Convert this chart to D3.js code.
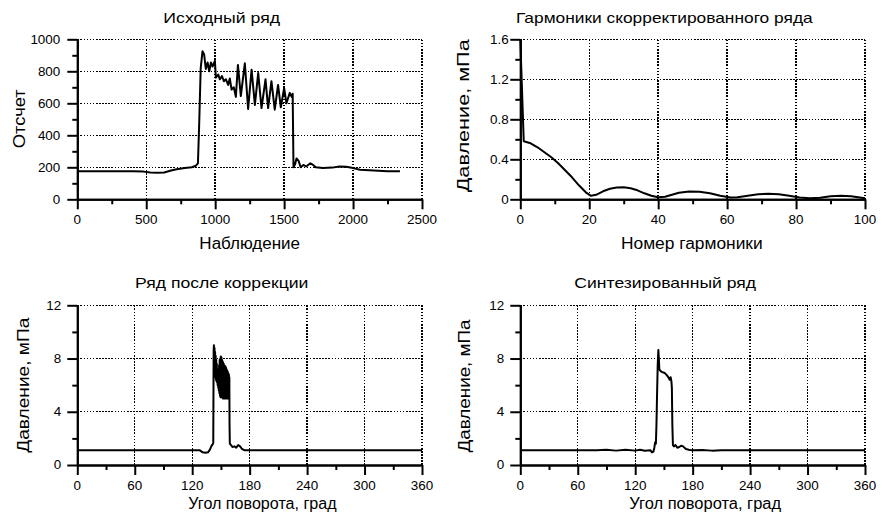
<!DOCTYPE html>
<html><head><meta charset="utf-8">
<script src="https://cdn.jsdelivr.net/npm/d3@7"></script>
<style>
body{margin:0;background:#fff}
svg{display:block}
text{font-family:"Liberation Sans",Arial,Helvetica,sans-serif;fill:#000}
</style>
</head><body>
<svg id="c" width="882" height="522"></svg>
<script>
// ---------- DATA ----------
const panelTitles = ["Исходный ряд", "Гармоники скорректированного ряда", "Ряд после коррекции", "Синтезированный ряд"];
const xTitles = ["Наблюдение", "Номер гармоники", "Угол поворота, град", "Угол поворота, град"];
const yTitles = ["Отсчет", "Давление, мПа", "Давление, мПа", "Давление, мПа"];

// Panel 1: raw series
const rawObs = [0,100,200,300,400,480,530,580,630,680,720,780,830,860,875,885,895,908,920,932,945,957,969,981,998,1005,1022,1034,1049,1063,1078,1094,1106,1119,1135,1150,1165,1186,1215,1239,1264,1288,1312,1336,1365,1384,1408,1432,1456,1476,1500,1517,1541,1555,1562,1568,1580,1590,1605,1620,1640,1660,1690,1710,1730,1780,1850,1900,1950,2000,2050,2150,2250,2340];
const rawCount = [175,175,176,176,175,173,168,166,168,180,188,195,200,210,225,500,820,925,905,815,855,800,855,830,865,760,780,750,770,738,750,715,755,686,700,640,840,645,850,565,810,590,790,570,750,570,738,560,715,575,695,600,665,640,660,200,220,255,240,200,215,205,225,215,200,195,198,205,203,195,185,180,176,175];

// Panel 2: harmonics
const harmNum = [0,1,3,5,7,9,11,13,15,17,19,20.5,22,24,26,28,30,32,34,36,38,40,42,44,46,49,52,55,58,61,63,66,69,72,75,78,81,84,87,90,93,96,98,100];
const harmAmp = [1.6,0.58,0.56,0.52,0.47,0.42,0.36,0.29,0.22,0.14,0.07,0.035,0.045,0.08,0.105,0.118,0.12,0.11,0.09,0.06,0.035,0.02,0.025,0.045,0.065,0.078,0.075,0.06,0.035,0.018,0.02,0.035,0.05,0.055,0.05,0.035,0.018,0.01,0.015,0.03,0.035,0.03,0.02,0.01];

// Panel 3: corrected series
const corrAngle = [0,128,131,134,136.5,138.5,140.3,141.8,142.0,142.4,142.7,143.0,143.3,143.6,143.9,144.2,144.5,144.8,145.1,145.4,145.7,146.0,146.3,146.6,146.9,147.2,147.5,147.8,148.1,148.4,148.7,149.0,149.3,149.6,149.9,150.2,150.5,150.8,151.1,151.4,151.7,152.0,152.3,152.6,152.9,153.2,153.5,153.8,154.1,154.4,154.7,155.0,155.3,155.6,155.9,156.2,156.5,156.8,157.1,157.4,157.7,158.0,158.3,158.6,158.8,159.0,159.3,160.5,162,164,166,168,170,172,175,180,360];
const corrPress = [1.1,1.1,0.95,0.92,0.95,1.15,1.45,1.6,1.7,8.6,9.0,7.4,8.8,6.9,8.5,6.6,8.2,6.4,7.9,6.3,7.6,6.2,7.2,6.0,6.9,5.8,7.0,5.6,7.5,5.4,7.9,5.2,8.0,5.1,8.15,5.1,8.1,5.1,7.9,5.1,7.8,5.0,7.7,5.1,7.6,5.0,7.5,5.1,7.45,5.0,7.4,5.1,7.3,5.0,7.2,5.1,7.1,5.0,7.0,5.1,6.9,5.0,6.8,5.1,6.6,3.0,1.6,1.5,1.35,1.4,1.3,1.5,1.4,1.2,1.1,1.1,1.1];

// Panel 4: synthesized series
const synAngle = [0,80,90,100,110,120,125,130,136,137.5,139,140,140.8,141.6,142.2,142.8,143.5,144.2,144.7,145.2,146,147.5,149.5,151,153,155,156,157,157.8,158.3,158.8,159.4,160.5,162,164,166,168,170,173,176,180,190,200,210,360];
const synPress = [1.1,1.1,1.14,1.08,1.14,1.08,1.15,1.07,1.1,0.95,1.0,1.3,1.7,1.6,3.0,5.2,7.5,8.65,8.0,7.2,7.1,7.0,6.95,6.9,6.75,6.55,6.4,6.6,6.3,5.8,3.0,1.5,1.4,1.5,1.3,1.35,1.45,1.4,1.2,1.15,1.1,1.13,1.08,1.1,1.1];

// ticks
const p1XTicks = [0,500,1000,1500,2000,2500];
const p1XMinor = [250,750,1250,1750,2250];
const p1YTicks = [0,200,400,600,800,1000];
const p1YMinor = [100,300,500,700,900];
const p2XTicks = [0,20,40,60,80,100];
const p2XMinor = [10,30,50,70,90];
const p2YTicks = [0,0.4,0.8,1.2,1.6];
const p2YLabels = ["0","0.4","0.8","1.2","1.6"];
const p2YMinor = [0.2,0.6,1.0,1.4];
const angTicks = [0,60,120,180,240,300,360];
const angMinor = [30,90,150,210,270,330];
const pressTicks = [0,4,8,12];
const pressMinor = [2,6,10];

// ---------- DRAW ----------
const svg = d3.select("#c");

function label(s, x, y, anchor, fs, sx, rot, len){
  const t = svg.append("text")
    .attr("transform", `translate(${x},${y}) rotate(${rot||0})` + (sx ? ` scale(${sx},1)` : ""))
    .attr("text-anchor", anchor).attr("font-size", fs).text(s);
  if (len){ t.attr("textLength", len).attr("lengthAdjust", "spacingAndGlyphs"); }
  return t;
}

function panel(c){
  const x = d3.scaleLinear().domain(c.xd).range([c.l, c.r]);
  const y = d3.scaleLinear().domain(c.yd).range([c.b, c.t]);
  const g = svg.append("g");
  const dot = sel => sel.attr("stroke","#000").attr("stroke-width",1.4).attr("stroke-dasharray","1.6,1.5").attr("shape-rendering","crispEdges");
  c.xt.filter(v => v !== c.xd[0]).forEach(v => {
    g.append("line").attr("x1",x(v)).attr("x2",x(v)).attr("y1",y(c.yd[0])).attr("y2",y(c.yd[1])).call(dot);
  });
  c.yt.filter(v => v !== c.yd[0]).forEach(v => {
    g.append("line").attr("y1",y(v)).attr("y2",y(v)).attr("x1",x(c.xd[0])).attr("x2",x(c.xd[1])).call(dot);
  });
  g.append("path").datum(d3.zip(c.xs, c.ys))
    .attr("d", d3.line().x(d => x(d[0])).y(d => y(d[1])))
    .attr("fill","none").attr("stroke","#000").attr("stroke-width",2).attr("stroke-linejoin","round");
  const styleAx = a => { a.selectAll("path,line").attr("stroke","#000").attr("stroke-width",2); };
  g.append("g").attr("transform",`translate(0,${c.b})`).call(d3.axisBottom(x).tickValues(c.xt).tickSize(10).tickSizeOuter(0).tickFormat("")).call(styleAx);
  g.append("g").attr("transform",`translate(0,${c.b})`).call(d3.axisBottom(x).tickValues(c.xm).tickSize(5).tickSizeOuter(0).tickFormat("")).call(styleAx);
  g.append("g").attr("transform",`translate(${c.l},0)`).call(d3.axisLeft(y).tickValues(c.yt).tickSize(10).tickSizeOuter(0).tickFormat("")).call(styleAx);
  g.append("g").attr("transform",`translate(${c.l},0)`).call(d3.axisLeft(y).tickValues(c.ym).tickSize(5).tickSizeOuter(0).tickFormat("")).call(styleAx);
  c.xt.forEach(v => label(String(v), x(v), c.b + 25, "middle", 12, 1.12));
  c.yt.forEach((v,i) => label(c.yl ? c.yl[i] : String(v), c.l - c.yGap, y(v) + 4.3, "end", 12, 1.12));
  label(c.title, c.tx, c.ty, "middle", 15, 0, 0, c.tw);
  label(c.xTitle, c.ax, c.ay, "middle", 16, 0, 0, c.aw);
  label(c.yTitle, c.yx, c.yy, "middle", 16, 0, -90, c.yw);
}

panel({xd:[0,2500], yd:[0,1000], l:77.3, r:422, t:39.3, b:199.3, xs:rawObs, ys:rawCount,
  xt:p1XTicks, xm:p1XMinor, yt:p1YTicks, ym:p1YMinor, yGap:17,
  title:panelTitles[0], tx:221.7, ty:23, tw:116.7,
  xTitle:xTitles[0], ax:249.7, ay:249, aw:100.7,
  yTitle:yTitles[0], yx:25, yy:118.8, yw:59});
panel({xd:[0,100], yd:[0,1.6], l:520.3, r:865, t:39.3, b:199.3, xs:harmNum, ys:harmAmp,
  xt:p2XTicks, xm:p2XMinor, yt:p2YTicks, yl:p2YLabels, ym:p2YMinor, yGap:11.5,
  title:panelTitles[1], tx:664.3, ty:23, tw:296.7,
  xTitle:xTitles[1], ax:691.8, ay:249, aw:141.7,
  yTitle:yTitles[1], yx:469, yy:115.8, yw:153});
panel({xd:[0,360], yd:[0,12], l:77.3, r:422, t:305.3, b:465, xs:corrAngle, ys:corrPress,
  xt:angTicks, xm:angMinor, yt:pressTicks, ym:pressMinor, yGap:16,
  title:panelTitles[2], tx:221.7, ty:288, tw:173.3,
  xTitle:xTitles[2], ax:262.5, ay:509, aw:148.3,
  yTitle:yTitles[2], yx:29, yy:385.2, yw:135});
panel({xd:[0,360], yd:[0,12], l:520.3, r:865, t:305.3, b:465, xs:synAngle, ys:synPress,
  xt:angTicks, xm:angMinor, yt:pressTicks, ym:pressMinor, yGap:16,
  title:panelTitles[3], tx:665.2, ty:288, tw:181.7,
  xTitle:xTitles[3], ax:705.2, ay:509, aw:151.7,
  yTitle:yTitles[3], yx:470, yy:386, yw:133});
</script>
</body></html>
